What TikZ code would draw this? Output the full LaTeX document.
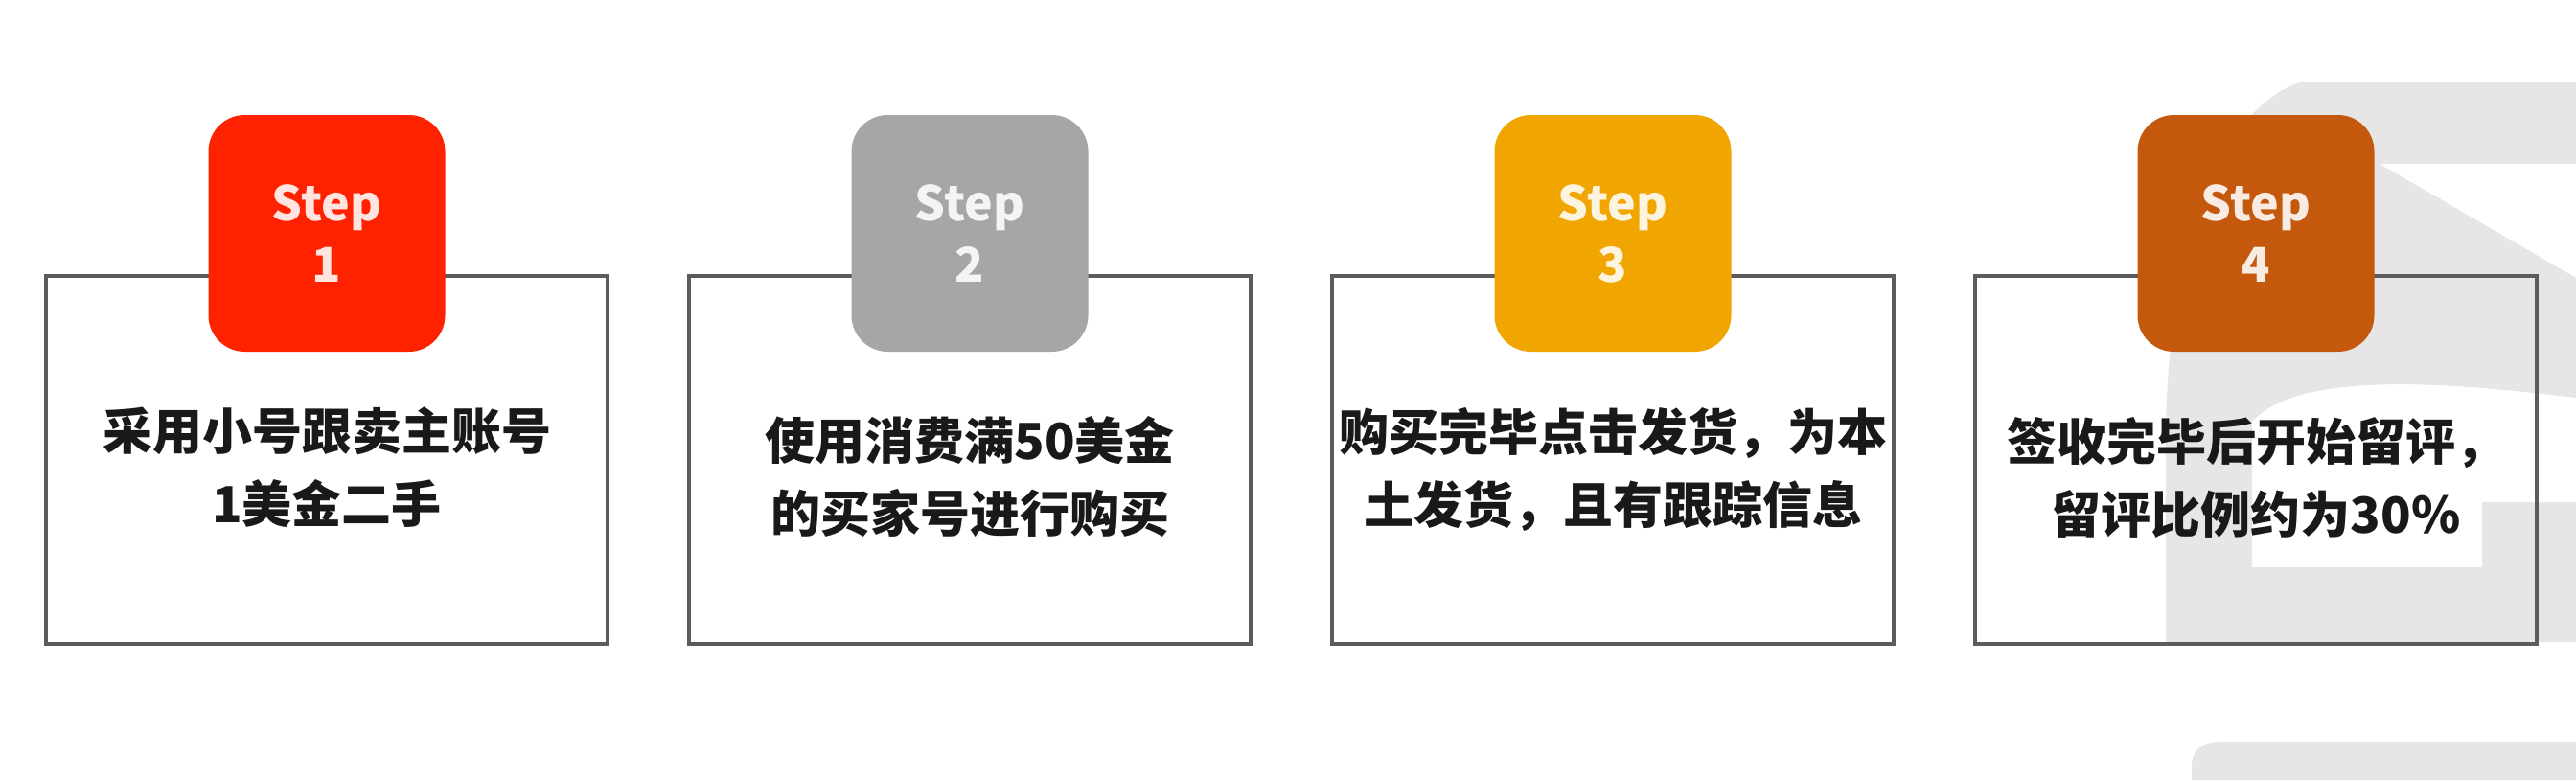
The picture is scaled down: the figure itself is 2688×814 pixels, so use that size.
\documentclass[tikz,border=0pt]{standalone}
\usepackage{fontspec}
\setmainfont{Noto Sans CJK SC}
\usetikzlibrary{calc}

\definecolor{stepred}{HTML}{FF2200}
\definecolor{stepgray}{HTML}{A6A6A6}
\definecolor{stepamber}{HTML}{F0A500}
\definecolor{steprust}{HTML}{C4580C}
\definecolor{framegray}{HTML}{5C5C5C}
\definecolor{markgray}{HTML}{E6E6E6}

\begin{document}
\begin{tikzpicture}[x=1pt,y=-1pt,
  frame/.style={draw=framegray,line width=4pt,minimum width=586pt,minimum height=384pt},
  badge/.style={fill=#1,rounded corners=38pt,minimum width=247pt,minimum height=247pt,
    align=center,text=white!88!#1,font=\fontsize{50}{64}\selectfont\bfseries},
  say/.style={align=center,text=black!90,font=\fontsize{52}{76}\selectfont\bfseries}]
\fill[white] (0,0) rectangle (2688,814);
\useasboundingbox (0,0) rectangle (2688,814);

% faint mark behind the last card
\fill[markgray] (2688,86) -- (2688,171) -- (2483,171) -- (2688,290) -- (2688,415)
  .. controls (2560,400) and (2400,385) .. (2350,440) -- (2350,592) -- (2590,592)
  -- (2590,524) -- (2688,524) -- (2688,670) -- (2260,670) -- (2260,460)
  .. controls (2260,300) and (2300,120) .. (2400,86) -- cycle;
\fill[markgray] (2287,814) -- (2287,800) .. controls (2287,780) and (2300,774) .. (2320,774)
  -- (2688,774) -- (2688,814) -- cycle;

\node[frame] (box1) at (341,480) {};
\node[frame] (box2) at (1012,480) {};
\node[frame] (box3) at (1683,480) {};
\node[frame] (box4) at (2354,480) {};

\node[badge=stepred]   (badge1) at (341,243.5)  {Step\\1};
\node[badge=stepgray]  (badge2) at (1012,243.5) {Step\\2};
\node[badge=stepamber] (badge3) at (1683,243.5) {Step\\3};
\node[badge=steprust]  (badge4) at (2354,243.5) {Step\\4};

\node[say] (say1) at (341,488)  {采用小号跟卖主账号\\1美金二手};
\node[say] (say2) at (1012,498) {使用消费满50美金\\的买家号进行购买};
\node[say] (say3) at (1683,490) {购买完毕点击发货，为本\\土发货，且有跟踪信息};
\node[say] (say4) at (2354,498) {签收完毕后开始留评，\\留评比例约为30\%};
\end{tikzpicture}
\end{document}
